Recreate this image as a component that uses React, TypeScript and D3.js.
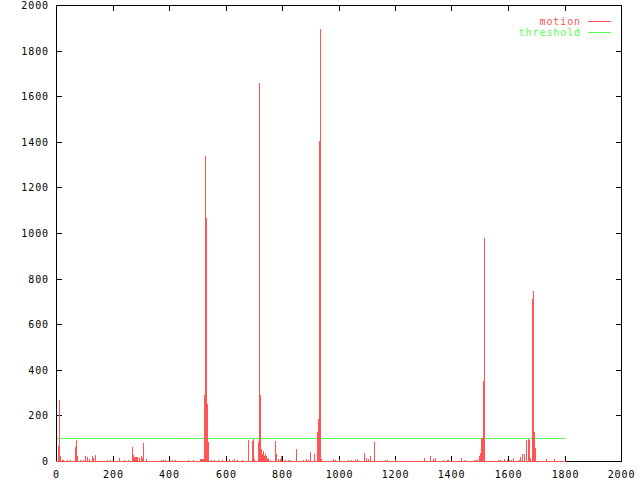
import { scaleLinear } from "d3";

// frame numbers and motion values (impulses)
const motionFrames = [
  7, 11, 14, 21, 25, 39, 50, 67, 71, 74, 85, 96, 103, 110, 117, 127, 131, 138, 180, 191,
  223, 241, 255, 269, 273, 276, 280, 283, 287, 294, 301, 304, 308, 319, 372, 379, 386, 411, 421, 467,
  485, 510, 513, 517, 520, 524, 527, 531, 535, 538, 549, 559, 573, 588, 612, 623, 630, 641, 658, 680,
  694, 697, 701, 715, 718, 722, 726, 729, 733, 736, 740, 743, 747, 750, 758, 774, 778, 786, 793, 796,
  810, 821, 828, 851, 874, 885, 892, 899, 913, 924, 927, 931, 934, 937, 980, 986, 1000, 1032, 1046, 1060,
  1067, 1089, 1099, 1103, 1113, 1125, 1165, 1172, 1200, 1303, 1324, 1335, 1342, 1370, 1384, 1388, 1434, 1448, 1480, 1487,
  1490, 1497, 1501, 1505, 1508, 1512, 1515, 1565, 1572, 1586, 1597, 1604, 1611, 1618, 1639, 1643, 1650, 1657, 1664, 1671,
  1675, 1678, 1685, 1689, 1692, 1696, 1735, 1763,
];
const motionValues = [
  67, 267, 23, 6, 6, 6, 6, 63, 92, 23, 6, 6, 23, 18, 9, 23, 15, 26, 6, 6,
  13, 6, 6, 63, 26, 18, 18, 18, 18, 15, 20, 15, 80, 8, 6, 6, 6, 6, 6, 6,
  6, 9, 9, 9, 9, 290, 1339, 1066, 250, 85, 6, 6, 6, 6, 8, 6, 8, 6, 6, 92,
  89, 96, 8, 83, 1658, 290, 53, 31, 45, 23, 31, 20, 8, 13, 6, 89, 31, 8, 8, 20,
  6, 6, 6, 53, 6, 8, 6, 39, 31, 127, 184, 1405, 1895, 8, 8, 6, 6, 6, 6, 6,
  8, 35, 15, 8, 20, 82, 6, 6, 6, 15, 23, 8, 12, 6, 6, 6, 12, 6, 6, 6,
  6, 20, 35, 99, 99, 352, 978, 6, 6, 8, 6, 6, 6, 12, 6, 16, 31, 31, 92, 96,
  92, 15, 710, 745, 128, 58, 8, 8,
];
// zero-valued impulses run over the whole recording
const frameRange = [0, 1800];
const thresholdValue = 100;

const xTicks = [0, 200, 400, 600, 800, 1000, 1200, 1400, 1600, 1800, 2000];
const yTicks = [0, 200, 400, 600, 800, 1000, 1200, 1400, 1600, 1800, 2000];
const legendLabels = ["motion", "threshold"];

const RED = "#ff5555";
const GREEN = "#55ff55";
const FONT = "'DejaVu Sans Mono', 'Liberation Mono', monospace";

const App = () => {
  const x = scaleLinear().domain([0, 2000]).range([56.5, 621.5]);
  const y = scaleLinear().domain([0, 2000]).range([461.5, 5.5]);
  const baseRow = 461;
  const TICK = 6;

  const row = (v: number) => Math.round(y(v) - 0.5);
  const col = (f: number) => Math.floor(x(f));

  return (
    <div style={{ position: "fixed", left: 0, top: 0 }}>
      <svg width={640} height={480} style={{ display: "block", background: "white" }}>
        <g shapeRendering="crispEdges">
          {/* threshold */}
          <rect
            x={col(frameRange[0])}
            y={row(thresholdValue)}
            width={col(frameRange[1]) - col(frameRange[0]) + 1}
            height={1}
            fill={GREEN}
          />

          {/* frame and ticks */}
          <rect x={56.5} y={5.5} width={565} height={456} fill="none" stroke="black" />
          {xTicks.map((t) => (
            <g key={`xt${t}`}>
              <rect x={col(t)} y={baseRow - TICK + 1} width={1} height={TICK} fill="black" />
              <rect x={col(t)} y={5} width={1} height={TICK} fill="black" />
            </g>
          ))}
          {yTicks.map((t) => (
            <g key={`yt${t}`}>
              <rect x={56} y={row(t)} width={TICK} height={1} fill="black" />
              <rect x={621 - TICK + 1} y={row(t)} width={TICK} height={1} fill="black" />
            </g>
          ))}

          {/* motion baseline (zero impulses) */}
          <rect
            x={col(frameRange[0])}
            y={baseRow}
            width={col(frameRange[1]) - col(frameRange[0]) + 1}
            height={1}
            fill={RED}
          />
          {/* motion impulses */}
          {motionFrames.map((f, i) => {
            const top = row(motionValues[i]);
            return (
              <rect key={`m${i}`} x={col(f)} y={top} width={1} height={baseRow - top + 1} fill={RED} />
            );
          })}

          {/* legend samples */}
          <rect x={588} y={21} width={23} height={1} fill={RED} />
          <rect x={588} y={32} width={23} height={1} fill={GREEN} />
        </g>

        <g fontFamily={FONT} fontSize={10} letterSpacing={0.9}>
          {yTicks.map((t) => (
            <text key={`yl${t}`} x={49} y={row(t) + 0.5} textAnchor="end" dominantBaseline="central" fill="black">
              {t}
            </text>
          ))}
          {xTicks.map((t) => (
            <text key={`xl${t}`} x={col(t) + 0.5} y={474} textAnchor="middle" dominantBaseline="central" fill="black">
              {t}
            </text>
          ))}
          <text x={581} y={21.5} textAnchor="end" dominantBaseline="central" fill={RED}>
            {legendLabels[0]}
          </text>
          <text x={581} y={32.5} textAnchor="end" dominantBaseline="central" fill={GREEN}>
            {legendLabels[1]}
          </text>
        </g>
      </svg>
    </div>
  );
};

export default App;
